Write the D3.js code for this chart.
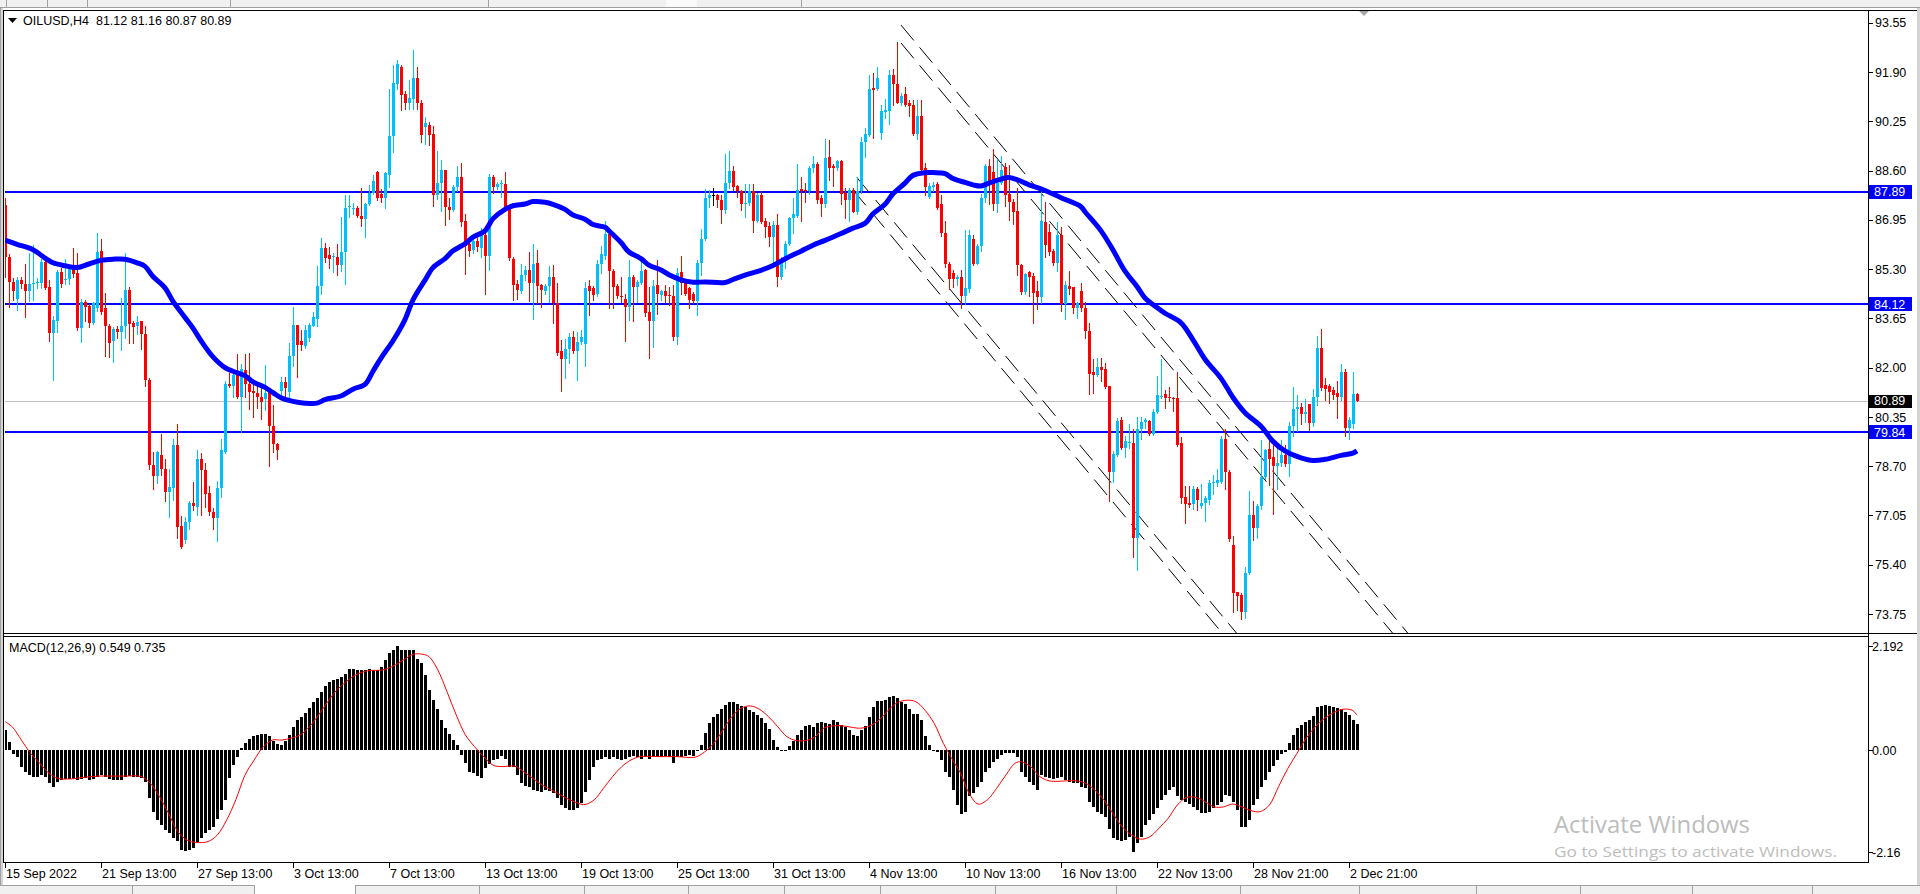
<!DOCTYPE html>
<html><head><meta charset="utf-8">
<script src="https://cdn.jsdelivr.net/npm/d3@7"></script>
<style>
html,body{margin:0;padding:0;background:#fff;overflow:hidden}
svg{display:block;font-family:"Liberation Sans",Arial,sans-serif}
text{white-space:pre}
</style></head><body>
<svg id="c" width="1920" height="894"></svg>
<script>
// ---------- DATA ----------
const symbolTitle = "OILUSD,H4  81.12 81.16 80.87 80.89";
const macdTitle = "MACD(12,26,9) 0.549 0.735";

const opens = [87.44,85.70,84.86,84.31,84.93,84.79,84.55,84.79,84.82,84.84,
85.53,84.69,83.17,83.56,85.20,84.95,84.97,85.35,85.17,83.32,
84.19,84.06,83.50,84.00,85.89,83.98,83.40,82.90,83.28,83.20,
83.38,84.60,83.50,83.40,83.56,83.11,81.60,78.74,78.36,79.07,
78.62,77.82,77.97,79.40,76.68,76.22,76.82,77.46,77.34,78.93,
78.57,77.80,77.18,76.97,77.97,79.19,81.46,81.40,81.85,81.01,
81.92,81.44,81.22,81.16,81.00,80.95,81.20,80.05,79.45,81.23,
81.52,81.20,82.40,83.44,82.90,82.72,83.00,83.40,83.64,84.72,
86.01,85.77,85.70,85.70,85.44,85.87,87.38,87.33,87.33,87.09,
86.97,87.47,87.86,88.55,87.80,87.68,88.46,89.74,91.51,92.07,
91.15,90.85,91.01,91.69,90.85,90.07,90.13,89.81,87.78,88.19,
88.62,87.39,87.29,88.04,88.37,86.91,86.13,85.95,86.23,86.01,
86.43,85.75,88.38,88.04,88.14,88.14,87.33,85.65,84.79,84.57,
85.11,85.27,84.84,85.50,84.75,84.55,84.72,85.03,84.16,82.54,
82.30,82.62,83.04,82.54,82.86,82.80,84.72,84.67,84.45,85.47,
85.75,86.46,85.23,84.72,84.39,84.31,84.04,85.05,84.69,84.84,
85.27,83.86,83.56,84.75,84.43,84.57,84.43,84.39,83.02,85.20,
84.85,84.66,84.46,84.23,85.51,86.32,87.67,87.77,87.77,87.60,
87.28,88.18,88.59,88.08,87.92,87.47,87.51,87.92,86.92,87.77,
86.92,86.75,86.39,86.77,85.04,85.62,86.15,87.00,87.09,87.97,
87.96,87.93,88.67,88.82,87.67,87.47,89.05,88.76,88.69,88.92,
87.86,87.60,87.95,87.22,87.92,89.56,89.78,91.36,91.32,89.87,
90.55,90.59,91.79,91.51,90.87,91.15,90.87,90.81,89.82,90.42,
88.67,87.73,88.05,88.15,87.47,86.51,85.46,85.17,84.98,85.04,
84.40,84.62,86.32,85.46,86.07,87.67,88.76,88.56,87.47,88.18,
88.72,87.82,87.56,87.26,85.42,84.53,85.21,85.08,84.56,84.36,
86.87,86.54,85.90,85.51,86.45,84.14,84.74,84.69,83.98,84.55,
83.98,83.21,81.84,81.75,82.03,81.96,81.39,78.50,79.08,80.26,
79.31,79.48,79.49,76.29,79.95,80.17,80.21,79.79,80.52,81.04,
81.11,81.00,80.98,80.98,79.49,77.67,77.48,77.44,77.93,77.35,
77.48,77.57,78.13,78.12,78.18,79.62,78.50,76.07,74.47,74.40,
73.82,75.11,77.06,76.62,77.35,78.34,79.27,79.02,78.72,78.82,
79.06,78.76,80.04,80.62,80.68,80.46,80.77,80.13,81.00,82.67,
81.41,81.39,81.26,81.16,81.03,81.84,79.98,80.10,81.12];

const highs = [87.68,85.79,84.99,85.05,85.05,85.47,85.83,86.09,84.99,85.65,
85.59,84.93,83.74,85.27,85.35,85.65,85.43,86.01,85.83,84.31,
84.28,84.12,84.19,86.51,86.31,84.51,83.47,83.35,83.40,84.33,
85.83,84.69,83.56,83.74,83.56,83.38,81.64,79.19,79.22,79.79,
78.95,78.62,79.60,80.12,77.04,76.99,77.54,78.17,79.25,79.13,
78.81,78.05,77.30,78.21,79.60,81.56,81.82,81.88,82.44,82.12,
82.44,82.48,81.52,81.40,81.45,82.10,81.28,80.76,79.49,81.68,
81.68,82.84,84.04,83.44,83.26,83.44,83.50,83.86,85.41,86.34,
86.18,86.03,85.83,86.13,87.03,87.78,87.78,87.50,87.42,88.02,
87.50,88.10,88.46,88.58,87.98,88.54,91.33,92.13,92.29,92.13,
91.25,91.63,92.65,92.05,90.97,90.38,90.22,90.08,89.24,88.94,
88.62,87.68,88.10,88.74,88.86,87.15,86.31,86.37,86.43,86.67,
86.75,88.50,88.46,88.22,88.28,88.55,87.38,85.71,84.93,85.47,
85.39,85.87,86.15,85.95,84.79,84.81,85.40,85.43,84.84,82.92,
82.96,83.16,83.22,83.20,83.26,84.87,84.93,84.72,85.59,86.07,
86.91,86.67,85.29,84.79,85.05,84.45,85.59,85.11,84.93,85.53,
85.29,84.69,84.93,85.59,84.60,84.75,84.69,84.75,85.35,85.75,
84.91,84.70,84.53,85.59,86.64,87.99,87.95,88.02,87.82,87.79,
89.14,89.27,88.76,88.12,87.95,88.15,88.15,88.15,87.86,87.92,
87.00,86.87,86.90,87.13,85.69,86.23,87.05,87.67,88.82,88.37,
88.18,88.76,89.08,88.88,87.77,89.65,89.62,88.82,88.95,88.95,
88.02,88.02,88.02,88.37,89.72,90.04,91.79,91.87,92.06,90.81,
91.00,91.96,92.00,92.92,91.20,91.41,90.95,90.97,90.97,90.97,
88.85,88.19,88.21,88.21,87.77,86.92,85.55,85.26,85.10,85.26,
86.62,86.62,86.45,86.13,87.82,88.82,88.97,89.31,88.97,89.10,
88.85,88.80,87.66,88.03,85.48,85.17,85.23,85.17,84.91,87.92,
87.54,86.80,85.98,86.87,86.71,84.91,85.23,84.69,84.21,84.82,
84.21,83.50,82.28,82.31,82.31,82.15,81.39,79.21,80.30,80.36,
79.70,80.11,79.95,80.36,80.33,80.30,80.23,80.62,81.71,82.28,
81.26,81.36,81.02,81.84,79.69,78.03,78.03,78.03,78.00,78.11,
77.70,78.24,78.42,78.59,79.70,79.95,78.56,76.37,74.47,74.44,
75.34,77.86,77.52,77.44,79.59,79.29,79.62,79.44,79.30,79.57,
79.40,80.17,81.36,81.07,80.81,80.94,80.77,81.29,83.05,83.31,
81.66,81.45,81.36,81.54,82.13,81.96,80.36,81.84,81.16];

const lows = [85.05,84.03,84.25,83.92,84.67,83.68,84.22,84.27,84.67,84.67,
84.64,82.90,81.58,83.20,84.69,84.79,84.79,85.05,83.26,82.86,
83.56,83.35,83.46,83.91,83.80,82.40,82.36,82.18,82.99,82.60,
82.99,82.84,82.84,83.14,82.64,81.37,78.59,77.93,78.14,78.41,
77.54,77.01,77.58,76.30,75.96,76.14,76.60,77.22,77.06,77.06,
77.34,77.06,76.58,76.20,77.66,79.13,81.34,81.01,80.98,79.85,
81.01,80.60,80.36,80.65,80.28,80.58,78.69,79.17,78.95,81.01,
81.04,80.99,82.06,81.70,82.60,82.66,82.90,83.38,83.40,84.48,
85.53,85.35,85.20,85.10,85.23,84.79,87.03,87.15,87.03,86.73,
86.39,87.44,87.80,87.62,87.54,87.36,88.04,89.22,91.33,90.62,
90.65,90.65,90.65,90.65,89.57,89.50,89.45,87.42,87.66,87.23,
86.79,86.97,87.23,87.90,86.75,85.15,85.75,85.83,85.91,85.71,
84.48,85.27,87.86,87.98,87.71,87.26,85.59,84.27,84.31,84.51,
84.93,84.22,83.64,84.15,84.03,84.46,84.20,83.50,82.42,81.22,
81.64,82.16,82.48,81.58,82.78,82.06,83.76,84.27,84.39,85.17,
85.65,84.00,83.98,84.33,84.21,82.90,83.60,83.56,84.21,84.79,
83.74,82.33,82.68,83.80,84.27,84.21,84.09,82.92,82.78,84.46,
84.43,84.01,84.18,83.76,85.10,86.28,87.38,87.43,87.38,86.83,
87.18,88.03,87.95,87.73,87.28,87.05,87.43,86.54,86.87,86.83,
86.39,86.07,85.43,84.74,84.98,85.34,86.10,86.51,87.05,86.90,
87.54,87.82,88.54,87.51,87.09,87.39,88.28,88.08,88.63,87.47,
87.00,86.92,87.22,87.15,87.86,89.05,89.74,89.69,91.28,89.65,
90.36,90.17,90.81,90.85,90.80,90.77,90.42,89.78,89.65,88.59,
87.77,87.69,87.90,87.31,86.41,85.38,84.62,84.70,84.75,84.00,
84.14,84.53,85.42,85.46,85.90,87.56,87.47,87.28,87.22,88.16,
87.41,86.96,86.80,85.10,84.46,84.46,84.40,83.50,83.95,84.18,
85.72,85.77,85.43,85.23,83.88,83.63,84.46,83.82,83.67,83.88,
82.99,81.13,81.16,81.71,81.54,81.32,77.54,78.16,79.03,79.27,
79.02,79.31,75.65,75.21,79.62,79.97,79.75,79.75,80.49,80.97,
80.64,80.87,80.56,79.36,77.48,76.80,77.32,77.26,77.22,77.31,
76.88,77.42,77.78,78.03,78.12,77.93,76.19,73.83,73.89,73.57,
73.60,75.08,76.24,76.28,77.28,78.28,78.08,77.10,77.93,78.70,
78.69,78.38,79.72,79.88,80.11,80.17,79.91,80.04,80.75,81.26,
80.90,80.81,80.94,80.30,80.90,79.70,79.62,79.98,80.87];

const closes = [85.71,84.87,84.57,84.93,84.79,84.55,84.79,84.84,84.86,85.53,
84.67,83.17,83.59,85.20,84.81,84.98,85.35,85.15,83.32,84.19,
84.03,83.50,84.16,85.87,83.86,83.40,82.84,83.28,83.20,83.40,
84.60,83.47,83.35,83.52,83.11,81.60,78.74,78.36,79.16,78.62,
77.82,77.99,79.40,76.66,75.99,76.82,77.46,77.37,78.93,78.57,
77.78,77.18,76.97,77.97,79.25,81.46,81.37,81.76,81.01,81.94,
81.44,81.20,81.16,81.00,80.85,81.16,80.03,79.45,79.25,81.52,
81.31,82.40,83.44,82.75,82.75,83.26,83.44,83.68,84.72,86.01,
85.67,85.65,85.74,85.44,85.87,87.33,87.41,87.35,87.09,86.97,
87.47,87.86,88.26,87.68,87.68,88.52,89.75,91.54,92.17,91.13,
90.85,91.03,91.69,90.85,89.80,90.19,89.78,87.78,88.19,88.62,
87.39,87.29,88.04,88.37,86.87,86.07,85.91,86.23,86.03,86.43,
85.75,88.38,88.04,88.16,88.17,87.33,85.68,84.75,84.60,85.11,
85.27,84.84,85.47,84.72,84.60,84.72,85.05,84.16,82.48,82.30,
82.62,83.04,82.54,82.86,83.02,84.67,84.55,84.43,85.47,85.79,
86.46,85.23,84.69,84.39,84.35,84.04,85.05,84.69,84.87,85.23,
83.83,83.56,84.72,84.45,84.55,84.39,84.41,83.02,85.17,84.85,
84.46,84.27,84.23,85.51,86.32,87.67,87.77,87.77,87.60,87.28,
88.18,88.59,88.05,87.92,87.47,87.52,87.92,86.92,87.77,86.87,
86.71,86.39,86.77,85.04,85.62,86.15,87.00,87.13,87.95,87.93,
87.93,88.67,88.82,87.60,87.47,89.01,88.69,88.67,88.92,87.82,
87.60,87.95,87.22,87.92,89.56,89.82,91.32,91.28,91.70,90.59,
90.62,91.79,91.49,90.87,91.10,90.81,90.77,89.82,90.42,88.63,
88.05,88.08,88.13,87.35,86.51,85.46,84.98,84.98,85.04,84.40,
84.66,86.45,85.46,86.07,87.69,88.76,88.18,87.47,88.18,88.63,
87.79,87.56,87.22,85.42,84.53,85.13,85.04,84.49,84.36,86.92,
86.10,85.87,85.51,86.45,84.14,84.78,84.62,83.98,84.18,83.98,
83.21,81.80,81.75,82.03,81.93,81.36,78.50,79.11,80.21,79.31,
79.53,79.52,76.29,79.95,80.17,80.23,79.79,80.52,81.07,81.06,
80.98,80.97,80.94,79.40,77.65,77.42,77.39,77.93,77.57,77.48,
77.65,78.15,78.16,78.25,79.62,78.50,76.26,74.44,74.36,73.82,
75.13,77.06,76.62,77.35,78.34,79.23,78.95,78.72,78.82,79.06,
78.76,80.04,80.62,80.68,80.46,80.51,80.13,81.00,82.67,81.32,
81.29,81.20,81.07,81.03,81.84,79.98,80.23,81.11,80.89];

// moving average (thick blue) sampled at bar indices
const maIdx = [0,3,7,10,12,15,18,21,24,27,30,33,35,37,40,42,45,47,49,52,55,57,60,62,65,67,69,72,75,78,80,84,87,90,92,94,97,100,102,105,107,110,112,115,117,120,122,125,127,130,132,135,137,140,142,145,147,150,151,154,156,159,161,164,166,169,172,175,180,182,185,189,192,195,199,202,205,209,212,215,217,220,222,225,227,230,232,235,237,240,242,244,246,249,251,254,256,259,264,269,270,274,277,280,283,285,288,290,294,297,300,304,307,310,314,317,320,324,327,330,334,337,338];
const maVal = [86.27,86.13,85.95,85.67,85.51,85.41,85.35,85.47,85.59,85.63,85.63,85.51,85.39,85.05,84.67,84.22,83.68,83.32,82.90,82.36,82.00,81.88,81.73,81.52,81.34,81.16,80.99,80.87,80.81,80.81,80.93,81.05,81.28,81.44,81.88,82.32,82.90,83.61,84.27,84.93,85.35,85.65,85.91,86.15,86.37,86.58,86.99,87.30,87.42,87.48,87.56,87.54,87.47,87.30,87.11,86.97,86.79,86.70,86.58,86.19,85.87,85.65,85.43,85.27,85.11,84.94,84.86,84.87,84.85,84.95,85.10,85.26,85.42,85.64,85.90,86.10,86.26,86.49,86.67,86.83,87.15,87.47,87.82,88.18,88.44,88.53,88.53,88.50,88.33,88.20,88.12,88.08,88.18,88.31,88.37,88.24,88.12,87.99,87.69,87.39,87.22,86.58,85.94,85.23,84.72,84.33,84.01,83.82,83.50,82.93,82.28,81.64,81.00,80.49,80.04,79.53,79.21,78.98,78.89,78.93,79.06,79.14,79.21];

// MACD main (histogram), one per bar
const macdHist = [0.42,0.17,-0.08,-0.15,-0.35,-0.46,-0.53,-0.56,-0.56,-0.53,
-0.56,-0.70,-0.79,-0.68,-0.63,-0.62,-0.62,-0.62,-0.63,-0.62,
-0.58,-0.63,-0.62,-0.56,-0.53,-0.56,-0.62,-0.63,-0.63,-0.63,
-0.56,-0.55,-0.56,-0.56,-0.58,-0.67,-1.02,-1.30,-1.48,-1.58,
-1.69,-1.76,-1.86,-1.93,-2.11,-2.14,-2.11,-2.07,-1.95,-1.86,
-1.76,-1.69,-1.62,-1.46,-1.27,-1.05,-0.60,-0.32,-0.15,0.05,
0.14,0.24,0.30,0.32,0.33,0.33,0.30,0.20,0.12,0.10,
0.18,0.32,0.48,0.63,0.70,0.79,0.88,1.02,1.09,1.23,
1.35,1.44,1.48,1.49,1.53,1.60,1.70,1.70,1.69,1.69,
1.69,1.70,1.69,1.69,1.76,1.90,2.04,2.11,2.19,2.12,
2.12,2.11,2.10,1.93,1.83,1.58,1.27,1.05,0.87,0.64,
0.46,0.34,0.21,0.10,-0.11,-0.28,-0.46,-0.49,-0.55,-0.58,
-0.39,-0.30,-0.21,-0.18,-0.13,-0.20,-0.35,-0.35,-0.53,-0.69,
-0.76,-0.79,-0.84,-0.86,-0.88,-0.84,-0.86,-0.91,-1.02,-1.16,
-1.23,-1.27,-1.27,-1.22,-1.11,-0.88,-0.63,-0.35,-0.21,-0.18,
-0.15,-0.20,-0.15,-0.20,-0.21,-0.18,-0.15,-0.13,-0.15,-0.18,
-0.15,-0.20,-0.15,-0.14,-0.15,-0.13,-0.15,-0.27,-0.15,-0.14,
-0.13,-0.11,-0.13,-0.01,0.11,0.35,0.58,0.70,0.77,0.86,
0.95,1.02,1.02,0.98,0.93,0.90,0.84,0.81,0.74,0.67,
0.56,0.44,0.21,0.07,0.01,0.01,0.08,0.18,0.32,0.42,
0.51,0.53,0.49,0.56,0.60,0.56,0.55,0.63,0.60,0.53,
0.48,0.42,0.32,0.30,0.42,0.51,0.70,0.91,1.04,1.04,
1.05,1.11,1.13,1.09,1.02,0.98,0.86,0.75,0.75,0.63,
0.30,0.11,-0.02,-0.04,-0.21,-0.46,-0.56,-0.84,-1.16,-1.34,
-1.30,-0.98,-0.91,-0.77,-0.67,-0.46,-0.39,-0.25,-0.18,-0.11,
-0.07,-0.07,-0.07,-0.14,-0.46,-0.56,-0.67,-0.74,-0.84,-0.53,
-0.56,-0.60,-0.62,-0.60,-0.56,-0.63,-0.67,-0.70,-0.70,-0.77,
-0.81,-1.09,-1.20,-1.30,-1.34,-1.41,-1.67,-1.86,-1.90,-1.91,
-1.90,-1.83,-2.16,-1.97,-1.83,-1.58,-1.48,-1.34,-1.23,-1.05,
-0.95,-0.84,-0.77,-0.97,-1.05,-1.09,-1.14,-1.20,-1.27,-1.32,
-1.32,-1.30,-1.23,-1.16,-1.09,-0.95,-0.98,-1.09,-1.27,-1.62,
-1.62,-1.48,-1.16,-1.04,-0.77,-0.63,-0.46,-0.34,-0.21,-0.08,
-0.04,0.14,0.32,0.46,0.53,0.60,0.63,0.72,0.91,0.93,
0.95,0.93,0.90,0.88,0.86,0.81,0.74,0.63,0.549];

// MACD signal line (red), sampled [bar index, value]
const signalPts = [[0,0.60],[1.8,0.49],[4.1,0.21],[6.4,-0.07],[8.7,-0.28],[11,-0.49],[13.3,-0.60],[16.4,-0.61],[19.4,-0.58],[23.3,-0.55],[26.3,-0.55],[30.1,-0.55],[34,-0.56],[36.3,-0.70],[38.6,-0.98],[40.9,-1.34],[43.2,-1.72],[45.5,-1.90],[47.8,-1.95],[50.8,-1.93],[53.1,-1.79],[55.4,-1.48],[57.7,-1.05],[60,-0.53],[62.3,-0.21],[64.6,0.07],[66.9,0.21],[69.2,0.21],[71.5,0.25],[73.8,0.32],[76.1,0.49],[78.4,0.74],[80.7,1.02],[83,1.27],[85.3,1.44],[87.6,1.58],[90.6,1.67],[94.5,1.69],[96.8,1.76],[99.8,1.91],[102.1,2.02],[104.4,2.02],[106,1.97],[108.2,1.69],[110.5,1.23],[112.8,0.74],[115.1,0.32],[117.4,0.07],[119.7,-0.14],[122,-0.32],[124.3,-0.35],[127.4,-0.34],[129.7,-0.46],[132,-0.60],[134.3,-0.74],[136.6,-0.84],[138.9,-0.95],[141.2,-1.05],[143.5,-1.13],[145,-1.15],[147.3,-1.05],[149.6,-0.81],[151.9,-0.56],[154.2,-0.35],[156.5,-0.21],[158.8,-0.14],[163.4,-0.14],[168,-0.14],[172.6,-0.15],[174.9,-0.04],[177.2,0.14],[179.5,0.42],[181.7,0.70],[184,0.88],[186.3,0.93],[188.6,0.86],[190.9,0.70],[193.2,0.49],[195.5,0.28],[197.8,0.20],[200.1,0.20],[202.4,0.27],[204.7,0.46],[207,0.51],[209.3,0.51],[211.6,0.48],[213.9,0.46],[216.2,0.51],[218.5,0.63],[220.8,0.84],[223.1,1.00],[225.4,1.05],[227.7,1.02],[230,0.84],[232.3,0.56],[234.6,0.14],[236.9,-0.21],[238.9,-0.49],[241,-0.91],[243.3,-1.14],[245.6,-1.05],[247.9,-0.81],[250.2,-0.53],[252.5,-0.28],[254.1,-0.25],[256.4,-0.35],[258.7,-0.56],[261,-0.65],[263.3,-0.66],[265.5,-0.65],[267.8,-0.65],[270.1,-0.70],[272.4,-0.84],[274.7,-1.05],[277,-1.34],[279.3,-1.62],[281.6,-1.79],[283.9,-1.88],[286.2,-1.83],[288.5,-1.65],[290.8,-1.44],[293.1,-1.16],[295.4,-1.00],[297.7,-1.00],[300,-1.09],[302.3,-1.20],[304.6,-1.20],[306.9,-1.14],[309.2,-1.20],[311.5,-1.28],[313.8,-1.30],[316.1,-1.16],[318.4,-0.77],[320.7,-0.39],[323,-0.07],[325.3,0.25],[327.6,0.49],[329.9,0.67],[332.2,0.79],[334.5,0.86],[336.8,0.84],[338,0.735]];

// horizontal levels, bid, axis ticks
const levelPrices = [87.89, 84.12, 79.84];
const bidPrice = 80.89;
const priceTicks = [93.55,91.90,90.25,88.60,86.95,85.30,83.65,82.00,80.35,78.70,77.05,75.40,73.75];
const macdTicks = [2.192, 0.00, -2.16];
const macdTickLabels = ["2.192","0.00","-2.16"];
const dateIdx = [0,24,48,72,96,120,144,168,192,216,240,264,288,312,336];
const dateLabels = ["15 Sep 2022","21 Sep 13:00","27 Sep 13:00","3 Oct 13:00","7 Oct 13:00","13 Oct 13:00","19 Oct 13:00","25 Oct 13:00","31 Oct 13:00","4 Nov 13:00","10 Nov 13:00","16 Nov 13:00","22 Nov 13:00","28 Nov 21:00","2 Dec 21:00"];

// dashed channel trendlines: start (bar, price) -> end (bar, price)
const chanStartIdx = [224, 224, 213, 212];
const chanStartPrice = [93.47, 92.87, 88.36, 87.95];
const chanEndIdx = [352, 352, 352, 352];
const chanEndPrice = [72.90, 72.29, 66.02, 65.44];

// ---------- LAYOUT ----------
const L = 4, R = 1868, mainTop = 10, mainBot = 633, mTop = 636, mBot = 862;
const svg = d3.select('#c');
const n = opens.length;
const x = d3.scaleLinear().domain([0, n - 1]).range([5, 5 + 4 * (n - 1)]);
const y = d3.scaleLinear().domain([73.75, 93.55]).range([614.0, 22.7]);
const ym = d3.scaleLinear().domain([-2.16, 2.192]).range([852.4, 646.1]);

svg.append('rect').attr('width', 1920).attr('height', 894).attr('fill', '#fff');

const defs = svg.append('defs');
defs.append('clipPath').attr('id', 'clipMain').append('rect')
  .attr('x', L + 1).attr('y', mainTop + 1).attr('width', R - L - 1).attr('height', mainBot - mainTop - 1);
defs.append('clipPath').attr('id', 'clipMacd').append('rect')
  .attr('x', L + 1).attr('y', mTop + 1).attr('width', R - L - 1).attr('height', mBot - mTop - 1);

// window chrome: top strip and bottom tab strip
svg.append('rect').attr('x', 0).attr('y', 0).attr('width', 1920).attr('height', 8).attr('fill', '#f0f0f0');
svg.append('line').attr('x1', 0).attr('x2', 1920).attr('y1', 7.5).attr('y2', 7.5).attr('stroke', '#a0a0a0');
[6, 47, 87, 230, 488, 801].forEach(v => svg.append('line').attr('x1', v + .5).attr('x2', v + .5).attr('y1', 0).attr('y2', 7).attr('stroke', '#a0a0a0'));
svg.append('rect').attr('x', 666).attr('y', 0).attr('width', 31).attr('height', 7).attr('fill', '#fafafa');
svg.append('rect').attr('x', 0).attr('y', 885).attr('width', 1920).attr('height', 9).attr('fill', '#f0f0f0');
svg.append('line').attr('x1', 0).attr('x2', 1920).attr('y1', 885.5).attr('y2', 885.5).attr('stroke', '#a0a0a0');
svg.append('rect').attr('x', 255).attr('y', 884).attr('width', 100).attr('height', 10).attr('fill', '#fff');
[132, 254, 355, 479, 584, 688, 784, 880, 995, 1116, 1240, 1359, 1476, 1580, 1692, 1812].forEach(v =>
  svg.append('line').attr('x1', v + .5).attr('x2', v + .5).attr('y1', 886).attr('y2', 894).attr('stroke', '#a0a0a0'));
svg.append('rect').attr('x', 0).attr('y', 8).attr('width', 3).attr('height', 877).attr('fill', '#d4d4d4');
svg.append('line').attr('x1', 0.5).attr('x2', 0.5).attr('y1', 8).attr('y2', 885).attr('stroke', '#a0a0a0');
svg.append('rect').attr('x', 1917).attr('y', 8).attr('width', 3).attr('height', 877).attr('fill', '#d4d4d4');

// frame lines
const fr = svg.append('g').attr('stroke', '#000').attr('shape-rendering', 'crispEdges');
fr.append('line').attr('x1', 3).attr('x2', 1917).attr('y1', mainTop + .5).attr('y2', mainTop + .5);
fr.append('line').attr('x1', L - .5).attr('x2', L - .5).attr('y1', mainTop).attr('y2', mBot);
fr.append('line').attr('x1', 3).attr('x2', 1917).attr('y1', mainBot + .5).attr('y2', mainBot + .5);
fr.append('line').attr('x1', 3).attr('x2', R).attr('y1', mTop + .5).attr('y2', mTop + .5);
fr.append('line').attr('x1', 3).attr('x2', R).attr('y1', mBot + .5).attr('y2', mBot + .5);
fr.append('line').attr('x1', R + .5).attr('x2', R + .5).attr('y1', mainTop).attr('y2', mBot + 1);

// chart shift marker
svg.append('polygon').attr('points', '1359,11 1369,11 1364,16').attr('fill', '#a8a8a8');

// ---------- MAIN PANEL ----------
const main = svg.append('g').attr('clip-path', 'url(#clipMain)');

// bid line
main.append('line').attr('x1', L).attr('x2', R).attr('y1', Math.round(y(bidPrice)) + .5).attr('y2', Math.round(y(bidPrice)) + .5)
  .attr('stroke', '#c0c0c0').attr('shape-rendering', 'crispEdges');

// horizontal levels
main.selectAll('line.lvl').data(levelPrices).join('line').attr('class', 'lvl')
  .attr('x1', L).attr('x2', R).attr('y1', d => Math.round(y(d))).attr('y2', d => Math.round(y(d)))
  .attr('stroke', '#0000ff').attr('stroke-width', 2).attr('shape-rendering', 'crispEdges');

// channel dashed lines
main.selectAll('line.ch').data(d3.range(chanStartIdx.length)).join('line').attr('class', 'ch')
  .attr('x1', k => x(chanStartIdx[k])).attr('y1', k => y(chanStartPrice[k]))
  .attr('x2', k => x(chanEndIdx[k])).attr('y2', k => y(chanEndPrice[k]))
  .attr('stroke', '#000').attr('stroke-width', 1).attr('stroke-dasharray', '20,9');

// candles
const bars = d3.range(n);
const col = i => closes[i] > opens[i] ? '#00bfff' : (closes[i] < opens[i] ? '#ff0000' : '#000000');
const cg = main.append('g').attr('shape-rendering', 'crispEdges');
cg.selectAll('line.w').data(bars).join('line').attr('class', 'w')
  .attr('x1', i => Math.round(x(i)) + .5).attr('x2', i => Math.round(x(i)) + .5)
  .attr('y1', i => Math.round(y(highs[i]))).attr('y2', i => Math.round(y(lows[i])) + 1)
  .attr('stroke', col);
cg.selectAll('rect.b').data(bars).join('rect').attr('class', 'b')
  .attr('x', i => Math.round(x(i)) - 1).attr('width', 3)
  .attr('y', i => Math.round(y(Math.max(opens[i], closes[i]))))
  .attr('height', i => Math.max(1, Math.round(y(Math.min(opens[i], closes[i]))) - Math.round(y(Math.max(opens[i], closes[i])))))
  .attr('fill', col);

// moving average
const maPts = maIdx.map((d, k) => [d, maVal[k]]);
main.append('path').datum(maPts)
  .attr('d', d3.line().x(d => x(d[0])).y(d => y(d[1])).curve(d3.curveCatmullRom.alpha(0.5)))
  .attr('fill', 'none').attr('stroke', '#0000ff').attr('stroke-width', 5).attr('stroke-linejoin', 'round');

// title
svg.append('polygon').attr('points', '8,18 17,18 12.5,23').attr('fill', '#000');
svg.append('text').attr('x', 23).attr('y', 25).attr('font-size', 12.5).attr('fill', '#000').text(symbolTitle);

// price axis
const pa = svg.append('g');
pa.selectAll('line').data(priceTicks).join('line')
  .attr('x1', R + 1).attr('x2', R + 5).attr('y1', d => Math.round(y(d)) + .5).attr('y2', d => Math.round(y(d)) + .5)
  .attr('stroke', '#000').attr('shape-rendering', 'crispEdges');
pa.selectAll('text').data(priceTicks).join('text')
  .attr('x', 1875).attr('y', d => y(d) + 4.6).attr('font-size', 12.5).attr('fill', '#000')
  .text(d => d.toFixed(2));

// level labels
const ll = svg.append('g');
ll.selectAll('rect').data(levelPrices).join('rect')
  .attr('x', 1869).attr('width', 43).attr('y', d => Math.round(y(d)) - 7).attr('height', 14).attr('fill', '#0000ff');
ll.selectAll('text').data(levelPrices).join('text')
  .attr('x', 1874).attr('y', d => y(d) + 4.6).attr('font-size', 12.5).attr('fill', '#fff').text(d => d.toFixed(2));
svg.append('rect').attr('x', 1869).attr('width', 43).attr('y', Math.round(y(bidPrice)) - 6).attr('height', 13).attr('fill', '#000');
svg.append('text').attr('x', 1874).attr('y', y(bidPrice) + 4.6).attr('font-size', 12.5).attr('fill', '#fff').text(bidPrice.toFixed(2));

// ---------- MACD PANEL ----------
const mg = svg.append('g').attr('clip-path', 'url(#clipMacd)');
mg.append('g').attr('shape-rendering', 'crispEdges').selectAll('rect').data(bars).join('rect')
  .attr('x', i => Math.round(x(i)) - 1).attr('width', 3)
  .attr('y', i => Math.round(ym(Math.max(0, macdHist[i]))))
  .attr('height', i => Math.max(1, Math.abs(Math.round(ym(macdHist[i])) - Math.round(ym(0)))))
  .attr('fill', '#000');
mg.append('path').datum(signalPts)
  .attr('d', d3.line().x(d => x(d[0])).y(d => ym(d[1])).curve(d3.curveCatmullRom.alpha(0.5)))
  .attr('fill', 'none').attr('stroke', '#ff0000').attr('stroke-width', 1);

svg.append('text').attr('x', 9).attr('y', 652).attr('font-size', 12.5).attr('fill', '#000').text(macdTitle);

const ma = svg.append('g');
ma.selectAll('line').data(macdTicks).join('line')
  .attr('x1', R + 1).attr('x2', R + 5).attr('y1', d => Math.round(ym(d)) + .5).attr('y2', d => Math.round(ym(d)) + .5)
  .attr('stroke', '#000').attr('shape-rendering', 'crispEdges');
ma.selectAll('text').data(macdTicks).join('text')
  .attr('x', 1872).attr('y', d => ym(d) + 4.8).attr('font-size', 12.5).attr('fill', '#000')
  .text((d, k) => macdTickLabels[k]);

// ---------- TIME AXIS ----------
const ta = svg.append('g');
ta.selectAll('line').data(dateIdx).join('line')
  .attr('x1', d => Math.round(x(d)) + .5).attr('x2', d => Math.round(x(d)) + .5).attr('y1', mBot + 1).attr('y2', mBot + 6)
  .attr('stroke', '#000').attr('shape-rendering', 'crispEdges');
ta.selectAll('text').data(dateIdx).join('text')
  .attr('x', d => Math.round(x(d)) + 1).attr('y', 878).attr('font-size', 12.5).attr('fill', '#000')
  .text((d, k) => dateLabels[k]);

// ---------- OS watermark ----------
svg.append('text').attr('x', 1554).attr('y', 833).attr('font-family', '"Open Sans","Noto Sans",sans-serif')
  .attr('font-size', 23).attr('fill', '#bdbdbd').attr('textLength', 196).attr('lengthAdjust', 'spacingAndGlyphs').text('Activate Windows');
svg.append('text').attr('x', 1554).attr('y', 857).attr('font-family', '"Open Sans","Noto Sans",sans-serif')
  .attr('font-size', 15).attr('fill', '#bdbdbd').attr('textLength', 283).attr('lengthAdjust', 'spacingAndGlyphs').text('Go to Settings to activate Windows.');
</script>
</body></html>
